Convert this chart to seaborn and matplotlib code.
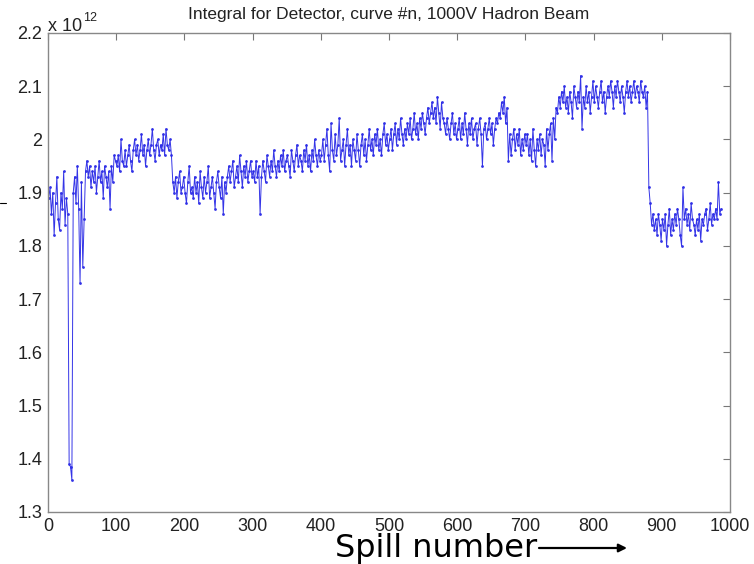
import numpy as np
import pandas as pd
import matplotlib
matplotlib.use("Agg")
import matplotlib.pyplot as plt
from matplotlib.lines import Line2D
import seaborn as sns

# values in units of 1e12, one every 2 spills (spill 1, 3, 5, ...)
block_0 = [1.89, 1.91, 1.86, 1.90, 1.82, 1.88, 1.93, 1.85, 1.83, 1.90,
           1.87, 1.94, 1.84, 1.89, 1.86, 1.39, 1.385, 1.36, 1.90, 1.93,
           1.88, 1.95, 1.87, 1.73, 1.92, 1.76, 1.85, 1.94, 1.96, 1.93,
           1.95, 1.91, 1.94, 1.92, 1.95, 1.90, 1.93, 1.96, 1.92, 1.94,
           1.89, 1.95, 1.93, 1.91, 1.94, 1.87, 1.95, 1.92, 1.97, 1.96]
block_1 = [1.95, 1.97, 1.94, 2.00, 1.96, 1.95, 1.98, 1.95, 1.97, 1.99,
           1.96, 1.94, 1.98, 2.00, 1.97, 1.99, 1.96, 1.98, 2.01, 1.97,
           1.99, 1.95, 1.98, 2.00, 1.97, 1.99, 2.02, 1.98, 1.96, 1.99,
           2.00, 1.97, 1.99, 1.98, 2.01, 1.97, 2.02, 1.99, 1.98, 2.00,
           1.97, 1.92, 1.90, 1.93, 1.89, 1.92, 1.94, 1.90, 1.91, 1.93]
block_2 = [1.90, 1.88, 1.92, 1.95, 1.90, 1.91, 1.89, 1.93, 1.90, 1.92,
           1.88, 1.94, 1.91, 1.89, 1.93, 1.90, 1.92, 1.95, 1.89, 1.91,
           1.93, 1.90, 1.87, 1.92, 1.94, 1.91, 1.89, 1.93, 1.86, 1.92,
           1.90, 1.93, 1.95, 1.92, 1.94, 1.96, 1.91, 1.93, 1.95, 1.92,
           1.97, 1.94, 1.91, 1.95, 1.93, 1.96, 1.92, 1.94, 1.96, 1.93]
block_3 = [1.94, 1.92, 1.96, 1.93, 1.95, 1.86, 1.93, 1.96, 1.94, 1.92,
           1.97, 1.95, 1.93, 1.96, 1.94, 1.98, 1.95, 1.93, 1.96, 1.94,
           1.97, 1.95, 1.98, 1.94, 1.96, 1.97, 1.95, 1.93, 1.98, 1.96,
           1.94, 1.97, 1.99, 1.95, 1.97, 1.96, 1.94, 1.98, 1.96, 1.99,
           1.95, 1.97, 1.94, 1.98, 1.96, 2.00, 1.97, 1.95, 1.98, 1.96]
block_4 = [1.97, 2.00, 1.96, 1.99, 2.02, 1.97, 1.94, 2.03, 1.98, 1.96,
           2.01, 1.97, 1.99, 2.04, 1.96, 1.98, 2.00, 1.95, 1.99, 2.02,
           1.97, 1.99, 1.95, 2.00, 1.98, 1.96, 2.01, 1.98, 1.95, 1.99,
           2.01, 1.97, 2.00, 1.96, 1.99, 2.02, 1.98, 2.00, 1.97, 2.01,
           1.99, 2.02, 1.98, 2.00, 1.97, 2.01, 2.03, 1.99, 2.01, 1.98]
block_5 = [2.00, 2.02, 1.98, 2.01, 2.03, 1.99, 2.02, 2.00, 2.04, 2.01,
           1.99, 2.02, 2.00, 2.03, 2.01, 2.04, 2.00, 2.02, 2.05, 2.01,
           2.03, 2.00, 2.04, 2.02, 2.05, 2.03, 2.01, 2.04, 2.06, 2.03,
           2.05, 2.07, 2.04, 2.06, 2.03, 2.08, 2.05, 2.02, 2.07, 2.04,
           2.03, 2.01, 2.04, 2.02, 2.00, 2.03, 2.05, 2.01, 2.03, 2.00]
block_6 = [2.02, 2.04, 2.00, 2.03, 2.01, 2.05, 2.02, 1.99, 2.03, 2.01,
           2.04, 2.00, 2.02, 2.03, 1.99, 2.02, 2.04, 2.01, 1.95, 2.02,
           2.03, 2.00, 2.02, 2.04, 2.01, 2.03, 1.99, 2.02, 2.04, 2.03,
           2.05, 2.04, 2.07, 2.05, 2.08, 2.03, 2.06, 1.96, 2.01, 1.97,
           2.00, 2.02, 1.98, 2.01, 1.99, 2.02, 1.97, 2.00, 1.98, 2.01]
block_7 = [1.99, 2.01, 1.97, 2.00, 1.96, 2.02, 1.98, 1.95, 2.00, 1.98,
           2.01, 1.97, 2.00, 1.99, 1.95, 2.02, 1.98, 2.01, 2.03, 1.96,
           2.04, 2.00, 2.06, 2.05, 2.08, 2.06, 2.09, 2.07, 2.10, 2.06,
           2.08, 2.05, 2.09, 2.07, 2.04, 2.10, 2.08, 2.06, 2.09, 2.07,
           2.12, 2.02, 2.08, 2.06, 2.10, 2.07, 2.09, 2.05, 2.08, 2.11]
block_8 = [2.07, 2.10, 2.08, 2.06, 2.09, 2.11, 2.07, 2.09, 2.05, 2.08,
           2.10, 2.08, 2.11, 2.09, 2.06, 2.10, 2.08, 2.11, 2.09, 2.07,
           2.10, 2.08, 2.05, 2.09, 2.11, 2.08, 2.10, 2.07, 2.09, 2.11,
           2.08, 2.10, 2.09, 2.07, 2.11, 2.09, 2.08, 2.10, 2.06, 2.09,
           1.91, 1.88, 1.84, 1.86, 1.83, 1.85, 1.82, 1.86, 1.84, 1.81]
block_9 = [1.85, 1.83, 1.86, 1.80, 1.84, 1.87, 1.82, 1.85, 1.83, 1.86,
           1.84, 1.87, 1.85, 1.82, 1.80, 1.91, 1.85, 1.87, 1.84, 1.86,
           1.83, 1.88, 1.85, 1.84, 1.82, 1.85, 1.83, 1.86, 1.81, 1.85,
           1.84, 1.86, 1.87, 1.83, 1.85, 1.88, 1.84, 1.86, 1.85, 1.87,
           1.85, 1.92, 1.86, 1.87]

x_ticks = [0, 100, 200, 300, 400, 500, 600, 700, 800, 900, 1000]
y_ticks = [1.3, 1.4, 1.5, 1.6, 1.7, 1.8, 1.9, 2.0, 2.1, 2.2]
y_tick_labels = ["1.3", "1.4", "1.5", "1.6", "1.7", "1.8", "1.9", "2", "2.1", "2.2"]
title = "Integral for Detector, curve #n, 1000V Hadron Beam"
x_label = "Spill number"

values = (block_0 + block_1 + block_2 + block_3 + block_4 +
          block_5 + block_6 + block_7 + block_8 + block_9)
spill = np.arange(1, 2 * len(values), 2)
df = pd.DataFrame({"spill": spill, "integral": values})

sns.set_theme(style="white")
plt.rcParams["font.family"] = ["Liberation Sans", "DejaVu Sans"]

W, H = 754, 564
fig = plt.figure(figsize=(W / 100, H / 100), dpi=100)
ax = fig.add_axes([48 / W, 1 - 512 / H, (730 - 48) / W, (512 - 33) / H])

sns.lineplot(data=df, x="spill", y="integral", ax=ax, color="#2a2ae6",
             linewidth=0.7, marker=".", markersize=4, markeredgewidth=0,
             alpha=0.95)

ax.set_xlim(0, 1000)
ax.set_ylim(1.3, 2.2)
ax.set_xticks(x_ticks)
ax.set_xticklabels([str(t) for t in x_ticks])
ax.set_yticks(y_ticks)
ax.set_yticklabels(y_tick_labels)
ax.set_xlabel("")
ax.set_ylabel("")
ax.tick_params(axis="both", which="both", direction="in", length=5, width=0.8,
               color="#777777", labelsize=13, labelcolor="#222222",
               top=True, right=True, pad=4)
for s in ax.spines.values():
    s.set_visible(True)
    s.set_color("#888888")
    s.set_linewidth(1.0)

fig.text(389 / W, 1 - 15 / H, title, ha="center", va="center", fontsize=12.5,
         color="#222222")
fig.text(48 / W, 1 - 31 / H, "x 10", ha="left", va="baseline", fontsize=13,
         color="#222222")
fig.text(83 / W, 1 - 21 / H, "12", ha="left", va="baseline", fontsize=9,
         color="#222222")

fig.text(335 / W, 1 - 549 / H, x_label, ha="left", va="center", fontsize=23,
         family="DejaVu Sans", color="black")
ax.annotate("", xy=(627 / W, 1 - 548 / H), xytext=(539 / W, 1 - 548 / H),
            xycoords="figure fraction", textcoords="figure fraction",
            arrowprops=dict(arrowstyle="-|>", lw=1.6, color="black",
                            mutation_scale=12, shrinkA=0, shrinkB=0))

fig.add_artist(Line2D([0 / W, 6 / W], [1 - 203 / H, 1 - 203 / H],
                      color="black", lw=0.8))

fig.savefig("out.png", dpi=100)
